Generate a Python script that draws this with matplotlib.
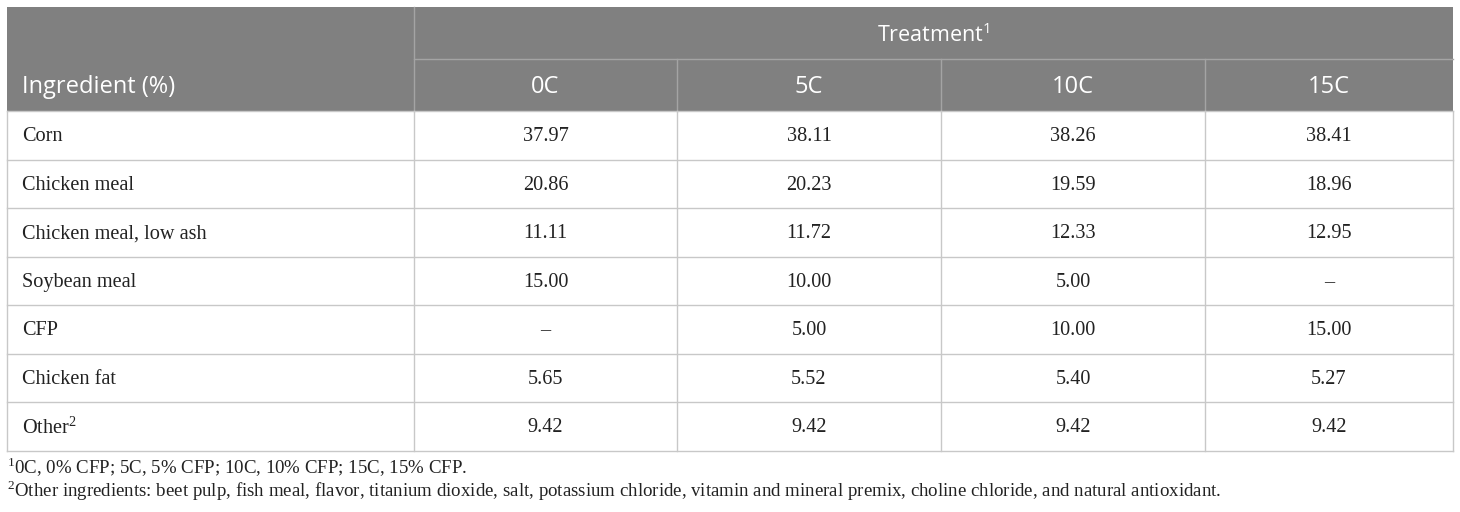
import matplotlib
matplotlib.use("Agg")
import matplotlib.pyplot as plt
from matplotlib.patches import Rectangle

plt.rcParams['mathtext.fontset'] = 'custom'
plt.rcParams['mathtext.rm'] = 'Liberation Serif'
plt.rcParams['mathtext.sf'] = 'Open Sans'

# table content
ingredients = ['Corn', 'Chicken meal', 'Chicken meal, low ash', 'Soybean meal',
               'CFP', 'Chicken fat', 'Other$^2$']
treatments = ['0C', '5C', '10C', '15C']
col_0C = ['37.97', '20.86', '11.11', '15.00', '–', '5.65', '9.42']
col_5C = ['38.11', '20.23', '11.72', '10.00', '5.00', '5.52', '9.42']
col_10C = ['38.26', '19.59', '12.33', '5.00', '10.00', '5.40', '9.42']
col_15C = ['38.41', '18.96', '12.95', '–', '15.00', '5.27', '9.42']
footnotes = ['$^1$0C, 0% CFP; 5C, 5% CFP; 10C, 10% CFP; 15C, 15% CFP.',
             '$^2$Other ingredients: beet pulp, fish meal, flavor, titanium dioxide, salt, '
             'potassium chloride, vitamin and mineral premix, choline chloride, and natural antioxidant.']

columns = [col_0C, col_5C, col_10C, col_15C]

# layout in pixels
W, H = 1460, 512
left, right = 7, 1453
top, mid, head_bot = 7, 59, 111
row_h = 48.5
col_edges = [left, 414, 677, 941, 1205, right]
header_bg = '#808080'
head_line = '#a4a4a4'
line_c = '#c8c8c8'
txt_c = '#222222'
body_font = 'Liberation Serif'
head_font = 'Open Sans'

fig = plt.figure(figsize=(W / 100, H / 100), dpi=100)
ax = fig.add_axes([0, 0, 1, 1])
ax.set_xlim(0, W)
ax.set_ylim(H, 0)
ax.axis('off')

# header background and its dividers
ax.add_patch(Rectangle((left, top), right - left, head_bot - top, color=header_bg, lw=0))
ax.plot([col_edges[1], right], [mid, mid], color=head_line, lw=1)
ax.plot([col_edges[1], col_edges[1]], [top, head_bot], color=head_line, lw=1)
for x in col_edges[2:-1]:
    ax.plot([x, x], [mid, head_bot], color=head_line, lw=1)

ax.text((col_edges[1] + right) / 2, (top + mid) / 2 + 2, r'Treatment$^\mathsf{1}$',
        ha='center', va='center', color='white', fontsize=15.5, family=head_font)
ax.text(22, (mid + head_bot) / 2 + 2, 'Ingredient (%)', ha='left', va='center',
        color='white', fontsize=17, family=head_font)
for j, t in enumerate(treatments):
    ax.text((col_edges[j + 1] + col_edges[j + 2]) / 2, (mid + head_bot) / 2 + 2, t,
            ha='center', va='center', color='white', fontsize=17, family=head_font)

# body grid
n = len(ingredients)
body_bot = head_bot + n * row_h
for i in range(n + 1):
    y = head_bot + i * row_h
    ax.plot([left, right], [y, y], color=line_c, lw=1)
for x in col_edges:
    ax.plot([x, x], [head_bot, body_bot], color=line_c, lw=1)

# body text
for i, name in enumerate(ingredients):
    yc = head_bot + (i + 0.5) * row_h + 1.5
    ax.text(22, yc, name, ha='left', va='center', fontsize=14.6, family=body_font, color=txt_c)
    for j, col in enumerate(columns):
        ax.text((col_edges[j + 1] + col_edges[j + 2]) / 2, yc, col[i], ha='center',
                va='center', fontsize=14.6, family=body_font, color=txt_c)

# footnotes
ax.text(left, 467, footnotes[0], ha='left', va='center', fontsize=13.6, family=body_font, color=txt_c)
ax.text(left, 491, footnotes[1], ha='left', va='center', fontsize=13.6, family=body_font, color=txt_c)

fig.savefig('out.png', dpi=100)
